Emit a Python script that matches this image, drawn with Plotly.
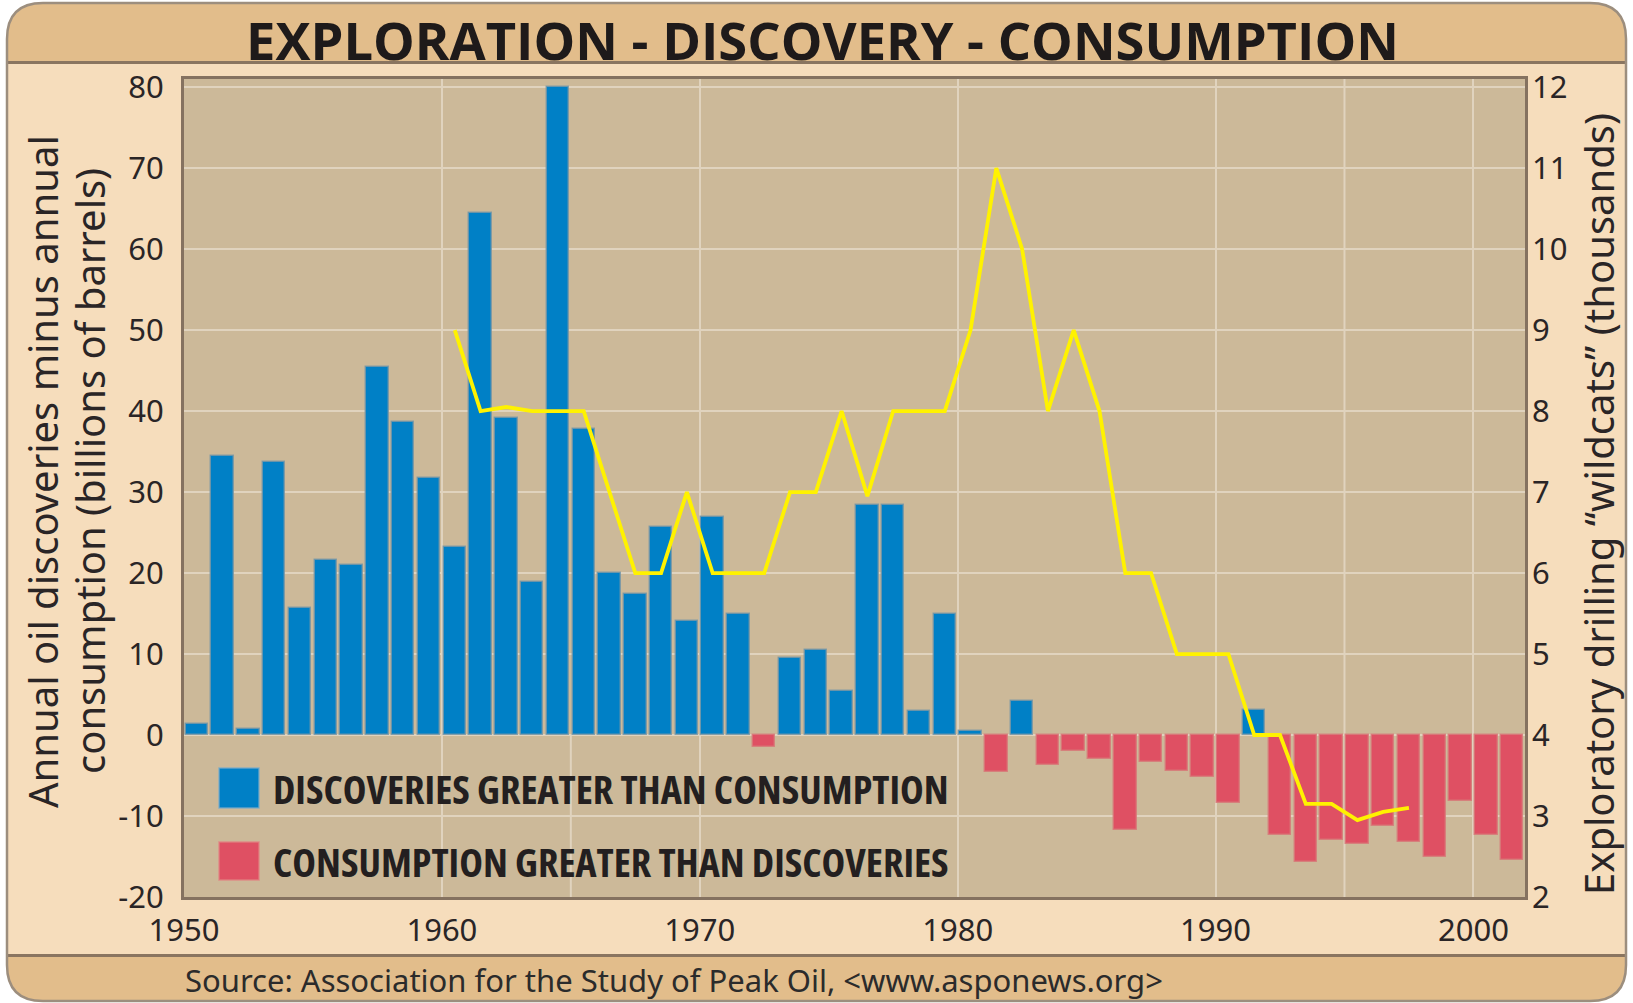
import numpy as np
import plotly.graph_objects as go

# ---------------- data ----------------
years = list(range(1950, 2002))
net_discovery = [  # annual discoveries minus consumption, billions of barrels
    1.4, 34.5, 0.8, 33.7, 15.7, 21.6, 21.0, 45.4, 38.6, 31.7,
    23.2, 64.5, 39.2, 18.9, 80.0, 37.8, 20.0, 17.4, 25.7, 14.1,
    26.9, 14.9, -1.5, 9.5, 10.5, 5.4, 28.4, 28.4, 3.0, 15.0,
    0.5, -4.6, 4.2, -3.7, -2.0, -3.0, -11.7, -3.3, -4.4, -5.2,
    -8.4, 3.1, -12.3, -15.7, -13.0, -13.4, -11.2, -13.2, -15.0, -8.1,
    -12.3, -15.4,
]
wildcat_years = list(range(1960, 1998))
wildcats = [  # exploratory drilling, thousands
    9.0, 8.0, 8.05, 8.0, 8.0, 8.0, 7.0, 6.0, 6.0, 7.0,
    6.0, 6.0, 6.0, 7.0, 7.0, 8.0, 6.95, 8.0, 8.0, 8.0,
    9.0, 11.0, 10.0, 8.0, 9.0, 8.0, 6.0, 6.0, 5.0, 5.0,
    5.0, 4.0, 4.0, 3.15, 3.15, 2.95, 3.05, 3.1,
]
left_ticks = list(range(-20, 81, 10))
left_ticktext = [str(v) for v in left_ticks]  # plain hyphen minus signs
right_ticks = list(range(2, 13))
x_ticks = list(range(1950, 2001, 10))

title_text = "EXPLORATION - DISCOVERY - CONSUMPTION"
left_title_1 = "Annual oil discoveries minus annual"
left_title_2 = "consumption (billions of barrels)"
right_title = "Exploratory drilling \u201cwildcats\u201d (thousands)"
legend_pos = "DISCOVERIES GREATER THAN CONSUMPTION"
legend_neg = "CONSUMPTION GREATER THAN DISCOVERIES"
source_text = "Source: Association for the Study of Peak Oil, &lt;www.asponews.org&gt;"

# ---------------- styling ----------------
W, H = 1633, 1003
L, R, T, B = 184, 1525, 79, 897
BLUE = "#0080C6"
RED = "#DF5063"
YELLOW = "#FFF200"
BODY = "#F6DDBC"
BAND = "#E2BD8B"
PLOTBG = "#CCB999"
GRID = "#E0D3BE"
FRAME = "#857260"
TXT = "#2A2526"
REG = "Noto Sans, Lato, sans-serif"
COND = "Open Sans, Lato, sans-serif"


def px(x):
    return (x - L) / (R - L)


def py(y):
    return (B - y) / (B - T)


def rounded_path(x0, y0, x1, y1, r, top=True, bottom=True):
    P = lambda x, y: f"{px(x):.5f},{py(y):.5f}"
    d = []
    if top:
        d.append("M" + P(x0, y0 + r))
        d.append("Q" + P(x0, y0) + " " + P(x0 + r, y0))
        d.append("L" + P(x1 - r, y0))
        d.append("Q" + P(x1, y0) + " " + P(x1, y0 + r))
    else:
        d.append("M" + P(x0, y0))
        d.append("L" + P(x1, y0))
    if bottom:
        d.append("L" + P(x1, y1 - r))
        d.append("Q" + P(x1, y1) + " " + P(x1 - r, y1))
        d.append("L" + P(x0 + r, y1))
        d.append("Q" + P(x0, y1) + " " + P(x0, y1 - r))
    else:
        d.append("L" + P(x1, y1))
        d.append("L" + P(x0, y1))
    d.append("Z")
    return " ".join(d)


vals = np.array(net_discovery)
xs = np.array(years) + 0.5
pos = np.where(vals > 0, vals, np.nan)
neg = np.where(vals < 0, vals, np.nan)

fig = go.Figure()
fig.add_trace(go.Bar(x=xs, y=pos, width=0.87, marker=dict(color=BLUE, line=dict(color="rgba(120,150,165,0.8)", width=1.5)),
                     name=legend_pos, showlegend=False))
fig.add_trace(go.Bar(x=xs, y=neg, width=0.87, marker=dict(color=RED, line=dict(color="rgba(215,120,120,0.8)", width=1.5)),
                     name=legend_neg, showlegend=False))
fig.add_trace(go.Scatter(x=np.array(wildcat_years) + 0.5, y=wildcats, mode="lines", yaxis="y2",
                         line=dict(color=YELLOW, width=3.8), showlegend=False))

shapes = []
shapes.append(dict(type="path", xref="paper", yref="paper", layer="below",
                   path=rounded_path(7, 3, 1626, 1001, 36), fillcolor=BODY, line=dict(width=0)))
shapes.append(dict(type="path", xref="paper", yref="paper", layer="below",
                   path=rounded_path(7, 3, 1626, 62, 36, top=True, bottom=False), fillcolor=BAND, line=dict(width=0)))
shapes.append(dict(type="path", xref="paper", yref="paper", layer="below",
                   path=rounded_path(7, 955, 1626, 1001, 36, top=False, bottom=True), fillcolor=BAND, line=dict(width=0)))
for yy in (62.5, 955.5):
    shapes.append(dict(type="line", xref="paper", yref="paper", layer="below",
                       x0=px(7), x1=px(1626), y0=py(yy), y1=py(yy), line=dict(color="#8A7560", width=3)))
shapes.append(dict(type="path", xref="paper", yref="paper", layer="below",
                   path=rounded_path(7, 3, 1626, 1001, 36), fillcolor="rgba(0,0,0,0)",
                   line=dict(color="#9C8E7E", width=2.5)))
shapes.append(dict(type="rect", xref="paper", yref="paper", layer="below",
                   x0=0, x1=1, y0=0, y1=1, fillcolor=PLOTBG, line=dict(width=0)))
# extra gridlines: 1995 full height, 1965 below the zero line only
shapes.append(dict(type="line", xref="x", yref="paper", layer="below",
                   x0=1995, x1=1995, y0=0, y1=1, line=dict(color=GRID, width=2)))
shapes.append(dict(type="line", xref="x", yref="y", layer="below",
                   x0=1965, x1=1965, y0=-20, y1=0, line=dict(color=GRID, width=2)))
shapes.append(dict(type="rect", xref="paper", yref="paper", layer="above",
                   x0=px(219), x1=px(259), y0=py(808), y1=py(768), fillcolor=BLUE,
                   line=dict(color="rgba(120,170,200,0.8)", width=1.5)))
shapes.append(dict(type="rect", xref="paper", yref="paper", layer="above",
                   x0=px(219), x1=px(259), y0=py(880), y1=py(842), fillcolor=RED,
                   line=dict(color="rgba(225,130,130,0.8)", width=1.5)))


def cond(text, stretch):
    return f'<span style="font-stretch:{stretch}"><b>{text}</b></span>'


annotations = [
    dict(text=cond(title_text, "100%"), xref="paper", yref="paper", x=px(822), y=py(40),
         xanchor="center", yanchor="middle", showarrow=False,
         font=dict(family=COND, size=52.5, color="#1E1A1A")),
    dict(text=left_title_1, xref="paper", yref="paper", x=px(42), y=py(472), textangle=-90,
         xanchor="center", yanchor="middle", showarrow=False,
         font=dict(family=REG, size=40, color=TXT)),
    dict(text=left_title_2, xref="paper", yref="paper", x=px(89), y=py(471), textangle=-90,
         xanchor="center", yanchor="middle", showarrow=False,
         font=dict(family=REG, size=40, color=TXT)),
    dict(text=right_title, xref="paper", yref="paper", x=px(1598), y=py(504), textangle=-90,
         xanchor="center", yanchor="middle", showarrow=False,
         font=dict(family=REG, size=40, color=TXT)),
    dict(text=cond(legend_pos, "75%"), xref="paper", yref="paper", x=px(271), y=py(788),
         xanchor="left", yanchor="middle", showarrow=False,
         font=dict(family=COND, size=40, color="#231F20")),
    dict(text=cond(legend_neg, "75%"), xref="paper", yref="paper", x=px(271), y=py(861),
         xanchor="left", yanchor="middle", showarrow=False,
         font=dict(family=COND, size=40, color="#231F20")),
    dict(text=source_text, xref="paper", yref="paper", x=px(674), y=py(980),
         xanchor="center", yanchor="middle", showarrow=False,
         font=dict(family=REG, size=31, color="#2B2B2B")),
]

fig.update_layout(
    width=W, height=H, autosize=False,
    margin=dict(l=L, r=W - R, t=T, b=H - B, pad=0),
    paper_bgcolor="white", plot_bgcolor="rgba(0,0,0,0)",
    bargap=0, barmode="overlay",
    shapes=shapes, annotations=annotations, showlegend=False,
    xaxis=dict(range=[1950, 2002], tickvals=x_ticks, ticktext=[str(v) for v in x_ticks],
               showgrid=True, gridcolor=GRID, gridwidth=2, zeroline=False,
               showline=True, mirror=True, linecolor=FRAME, linewidth=3,
               ticks="", ticklabelstandoff=4,
               tickfont=dict(family=REG, size=31, color=TXT)),
    yaxis=dict(range=[-20, 81], tickvals=left_ticks, ticktext=left_ticktext,
               showgrid=True, gridcolor=GRID, gridwidth=2,
               zeroline=False, showline=True, mirror=True, linecolor=FRAME, linewidth=3,
               ticks="", ticklabelstandoff=11,
               tickfont=dict(family=REG, size=31, color=TXT)),
    yaxis2=dict(range=[2, 12.1], tickvals=right_ticks, overlaying="y", side="right",
                showgrid=False, zeroline=False, showline=False, ticks="", ticklabelstandoff=6,
                tickfont=dict(family=REG, size=31, color=TXT)),
)

fig.write_html("out.html", config={"displayModeBar": False},
               post_script="document.body.style.margin='0';")
